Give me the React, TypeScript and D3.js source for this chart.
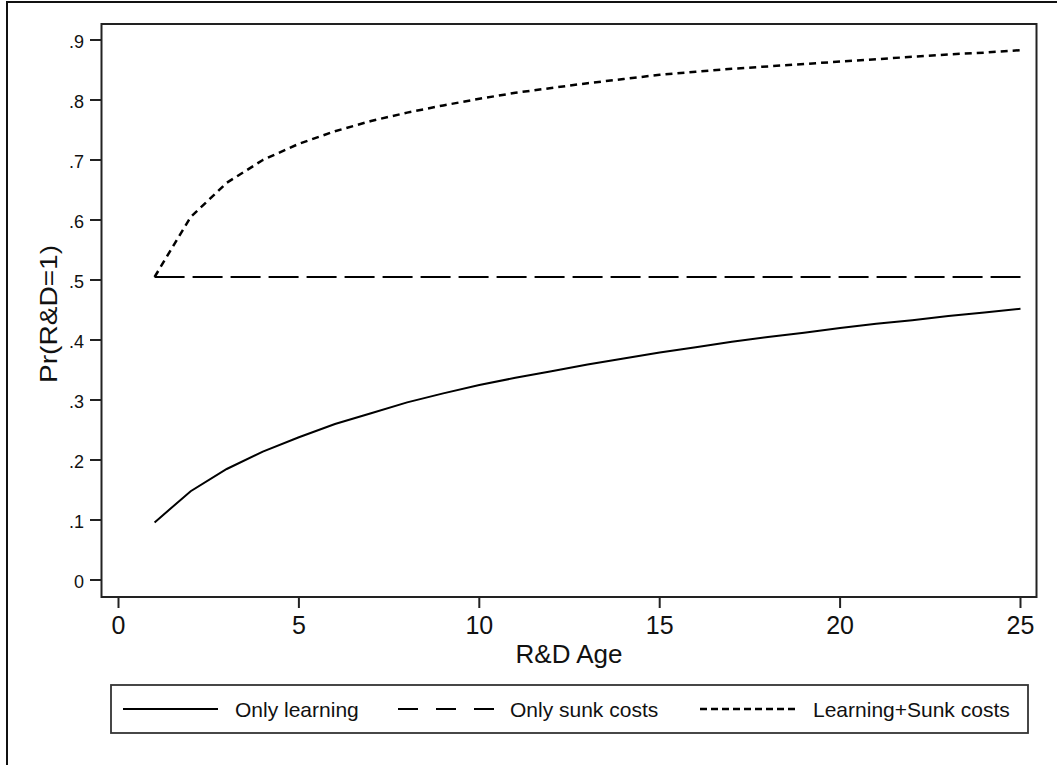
import React from "react";
import { scaleLinear, line, format } from "d3";

// R&D age (years)
const ages = [1, 2, 3, 4, 5, 6, 7, 8, 9, 10, 11, 12, 13, 14, 15, 16, 17, 18, 19, 20, 21, 22, 23, 24, 25];

// predicted Pr(R&D=1) by scenario
const onlyLearning = [
  0.096, 0.148, 0.185, 0.214, 0.238, 0.26, 0.278, 0.296, 0.311, 0.325, 0.337, 0.348, 0.359,
  0.369, 0.379, 0.388, 0.397, 0.405, 0.412, 0.42, 0.427, 0.433, 0.44, 0.446, 0.452,
];
const onlySunk = [
  0.505, 0.505, 0.505, 0.505, 0.505, 0.505, 0.505, 0.505, 0.505, 0.505, 0.505, 0.505, 0.505,
  0.505, 0.505, 0.505, 0.505, 0.505, 0.505, 0.505, 0.505, 0.505, 0.505, 0.505, 0.505,
];
const learningSunk = [
  0.505, 0.605, 0.662, 0.7, 0.727, 0.748, 0.765, 0.779, 0.791, 0.802, 0.812, 0.82, 0.828,
  0.835, 0.842, 0.847, 0.852, 0.856, 0.86, 0.864, 0.868, 0.872, 0.876, 0.879, 0.883,
];

const xTicks = [0, 5, 10, 15, 20, 25];
const yTicks = [0, 0.1, 0.2, 0.3, 0.4, 0.5, 0.6, 0.7, 0.8, 0.9];
const seriesNames = ["Only learning", "Only sunk costs", "Learning+Sunk costs"];

const W = 1057;
const H = 765;
const frame = { left: 101.5, top: 24, right: 1036.5, bottom: 597 };
const font = "'Liberation Sans', Arial, Helvetica, sans-serif";

export default function App() {
  const x = scaleLinear().domain([0, 25]).range([118.5, 1020.5]);
  const y = scaleLinear().domain([0, 0.9]).range([580, 40]);
  const path = line<number>()
    .x((d, i) => x(ages[i]))
    .y((d) => y(d));
  const fmtY = (d: number) => (d === 0 ? "0" : format(".1f")(d).replace(/^0/, ""));

  const series = [
    { name: seriesNames[0], values: onlyLearning, dash: undefined, legendDash: undefined, w: 2 },
    { name: seriesNames[1], values: onlySunk, dash: "30 8", legendDash: "20 18", w: 2 },
    { name: seriesNames[2], values: learningSunk, dash: "7 5", legendDash: "7 4", w: 2.5 },
  ];
  const legendKeys = [
    { x1: 123, x2: 218, tx: 235 },
    { x1: 398, x2: 496, tx: 510 },
    { x1: 700, x2: 798, tx: 813 },
  ];

  return (
    <svg
      width={W}
      height={H}
      style={{ position: "absolute", left: 0, top: 0, background: "#fff" }}
      fontFamily={font}
    >
      {/* outer border */}
      <rect x={7} y={2} width={W + 10} height={H + 10} fill="none" stroke="#111" strokeWidth={2} />

      {/* plot frame */}
      <rect
        x={frame.left}
        y={frame.top}
        width={frame.right - frame.left}
        height={frame.bottom - frame.top}
        fill="#fff"
        stroke="#222"
        strokeWidth={2}
      />

      {/* y axis */}
      {yTicks.map((t) => (
        <g key={t}>
          <line x1={90} x2={frame.left} y1={y(t)} y2={y(t)} stroke="#222" strokeWidth={2} />
          <text x={84} y={y(t) + 8} textAnchor="end" fontSize={18} fill="#111">
            {fmtY(t)}
          </text>
        </g>
      ))}
      <text
        transform="translate(57,314) rotate(-90)"
        textAnchor="middle"
        fontSize={24}
        textLength={138}
        lengthAdjust="spacingAndGlyphs"
        fill="#111"
      >
        Pr(R&amp;D=1)
      </text>

      {/* x axis */}
      {xTicks.map((t) => (
        <g key={t}>
          <line x1={x(t)} x2={x(t)} y1={frame.bottom} y2={608} stroke="#222" strokeWidth={2} />
          <text x={x(t)} y={634} textAnchor="middle" fontSize={25} fill="#111">
            {t}
          </text>
        </g>
      ))}
      <text x={(frame.left + frame.right) / 2} y={663} textAnchor="middle" fontSize={26} fill="#111">
        R&amp;D Age
      </text>

      {/* lines */}
      {series.map((s) => (
        <path
          key={s.name}
          d={path(s.values) || ""}
          fill="none"
          stroke="#000"
          strokeWidth={s.w}
          strokeDasharray={s.dash}
        />
      ))}

      {/* legend */}
      <rect x={111} y={685} width={917} height={48} fill="#fff" stroke="#333" strokeWidth={1.8} />
      {series.map((s, i) => (
        <g key={s.name}>
          <line
            x1={legendKeys[i].x1}
            x2={legendKeys[i].x2}
            y1={709}
            y2={709}
            stroke="#000"
            strokeWidth={s.w}
            strokeDasharray={s.legendDash}
          />
          <text x={legendKeys[i].tx} y={717} fontSize={21} fill="#111">
            {s.name}
          </text>
        </g>
      ))}
    </svg>
  );
}
